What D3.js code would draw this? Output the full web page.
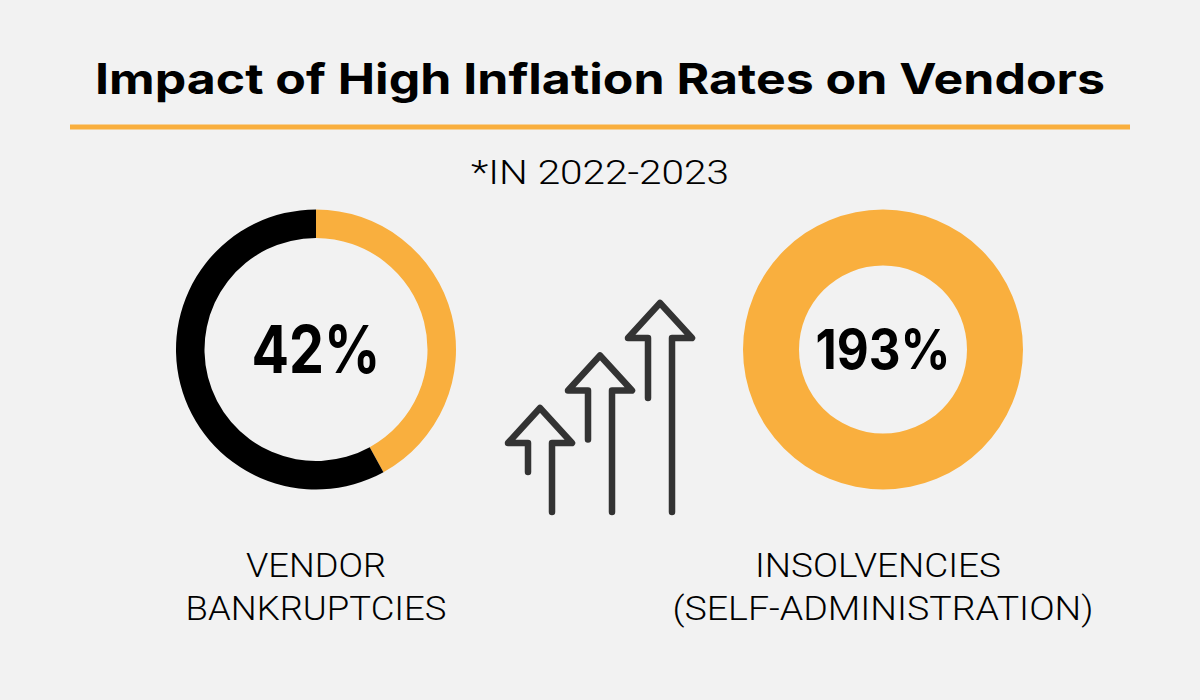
<!DOCTYPE html>
<html>
<head>
<meta charset="utf-8">
<script src="https://cdn.jsdelivr.net/npm/d3@7"></script>
<style>
  body { margin: 0; background: #f2f2f2; }
  svg { display: block; }
</style>
</head>
<body>
<script>
// chart values
var categories = ["VENDOR BANKRUPTCIES", "INSOLVENCIES (SELF-ADMINISTRATION)"];
var labelLines = [["VENDOR", "BANKRUPTCIES"], ["INSOLVENCIES", "(SELF-ADMINISTRATION)"]];
var values = [42, 193];
var valueLabels = ["42%", "193%"];
var title = "Impact of High Inflation Rates on Vendors";
var subtitle = "*IN 2022-2023";
// three rising arrows (relative heights)
var arrowSteps = [1, 2, 3];

var width = 1200, height = 700;
var orange = "#f9af3e", ink = "#000000", iconInk = "#333333";
var thinFont = "Roboto, Lato, 'Liberation Sans', sans-serif";

var svg = d3.select("body").append("svg")
    .attr("width", width)
    .attr("height", height)
    .style("background", "#f2f2f2");

// title + rule
svg.append("text")
    .attr("x", width / 2)
    .attr("y", 94)
    .attr("text-anchor", "middle")
    .attr("textLength", 1010)
    .attr("lengthAdjust", "spacingAndGlyphs")
    .style("font-family", "Inter, 'Noto Sans', sans-serif")
    .style("font-weight", 700)
    .style("font-size", "42px")
    .style("fill", ink)
    .text(title);

svg.append("rect")
    .attr("x", 70).attr("y", 124.5)
    .attr("width", 1060).attr("height", 5)
    .attr("fill", orange);

svg.append("text")
    .attr("x", width / 2)
    .attr("y", 184)
    .attr("text-anchor", "middle")
    .attr("textLength", 258)
    .attr("lengthAdjust", "spacingAndGlyphs")
    .style("font-family", thinFont)
    .style("font-weight", 300)
    .style("font-size", "34px")
    .style("fill", ink)
    .text(subtitle);

// donut positions
var x = d3.scalePoint().domain(categories).range([316, 883]);
var cy = 349.5;
var outerR = 140;
var innerR = [111.5, 84];
var numSize = [66, 55];
var numWidth = [129, 135];
var labelWidths = [[140, 261], [246, 421]];

categories.forEach(function(cat, i) {
  var g = svg.append("g")
      .attr("transform", "translate(" + x(cat) + "," + cy + ")");

  var v = values[i];
  var pie = d3.pie().sort(null)
      .value(function(d) { return d.v; });
  var parts = v >= 100 ? [{v: 100, c: orange}] : [{v: v, c: orange}, {v: 100 - v, c: ink}];
  var arc = d3.arc().innerRadius(innerR[i]).outerRadius(outerR);

  g.selectAll("path")
    .data(pie(parts))
    .enter().append("path")
    .attr("d", arc)
    .attr("fill", function(d) { return d.data.c; });

  g.append("text")
    .attr("x", 0)
    .attr("y", numSize[i] * 0.36)
    .attr("text-anchor", "middle")
    .attr("textLength", numWidth[i])
    .attr("lengthAdjust", "spacingAndGlyphs")
    .style("font-family", "Inter, 'Noto Sans', sans-serif")
    .style("font-weight", 700)
    .style("font-size", numSize[i] + "px")
    .style("fill", ink)
    .text(valueLabels[i]);

  // label below the donut
  labelLines[i].forEach(function(line, j) {
    svg.append("text")
      .attr("x", x(cat) + (i == 1 ? -5 * (1 - j) : 0))
      .attr("y", 577 + j * 43)
      .attr("text-anchor", "middle")
      .attr("textLength", labelWidths[i][j])
      .attr("lengthAdjust", "spacingAndGlyphs")
      .style("font-family", thinFont)
      .style("font-weight", 300)
      .style("font-size", "34px")
      .style("fill", ink)
      .text(line);
  });
});

// rising arrows icon
var ax = d3.scaleLinear().domain([1, 3]).range([540, 660]);
var ay = d3.scaleLinear().domain([1, 3]).range([408, 303]);
var baseY = 512, headH = 35, headW = 32, shaft = 12;

var line = d3.line();
svg.append("g").selectAll("path")
  .data(arrowSteps)
  .enter().append("path")
  .attr("d", function(s) {
    var cx = ax(s), tip = ay(s), hb = tip + headH;
    return line([
      [cx - shaft, hb + (s == 1 ? 29 : s == 2 ? 49 : 60)],
      [cx - shaft, hb],
      [cx - headW, hb],
      [cx, tip],
      [cx + headW, hb],
      [cx + shaft, hb],
      [cx + shaft, baseY]
    ]);
  })
  .attr("fill", "none")
  .attr("stroke", iconInk)
  .attr("stroke-width", 6.5)
  .attr("stroke-linejoin", "round")
  .attr("stroke-linecap", "round");
</script>
</body>
</html>
